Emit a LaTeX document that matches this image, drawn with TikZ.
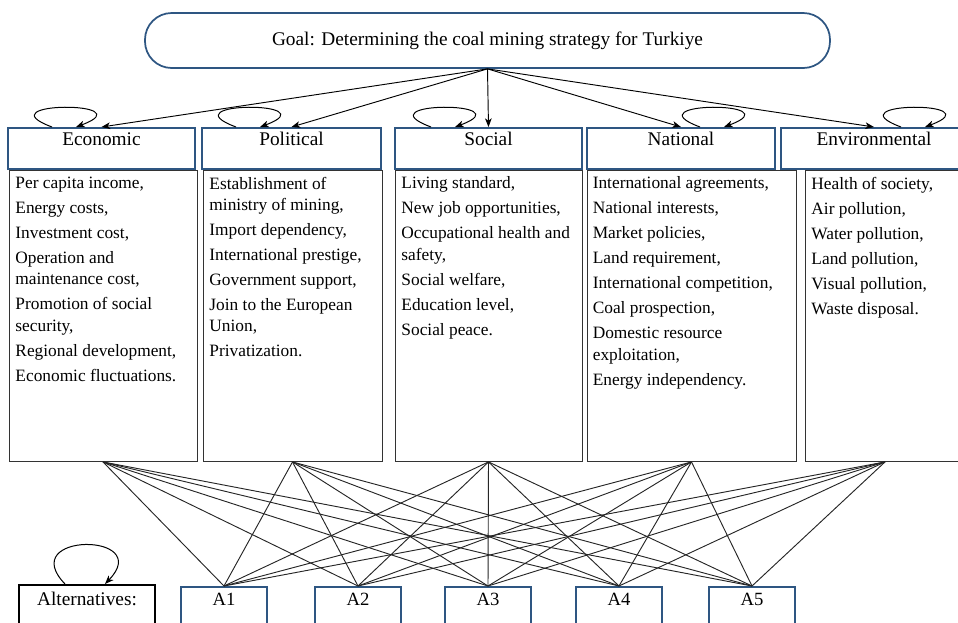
\documentclass[tikz,border=0pt]{standalone}
\usepackage{fontspec}
\setmainfont{Liberation Serif}
\usetikzlibrary{arrows.meta,positioning}
\definecolor{boxblue}{RGB}{46,86,130}

\begin{document}
\begin{tikzpicture}[x=0.75pt,y=-0.75pt,>={Stealth[length=6.5pt,width=5pt,inset=1.8pt]},
        goal/.style={draw=boxblue,line width=1.3pt,rounded corners=20pt,minimum width=513.75pt,minimum height=41.25pt,font=\fontsize{14.5}{16}\selectfont},
        crit/.style={draw=boxblue,line width=1.3pt,inner sep=0,anchor=north,text height=13.5pt,text depth=17.25pt,font=\fontsize{14.5}{16}\selectfont},
        sub/.style={draw=black!80,line width=0.7pt,anchor=north,minimum height=218.25pt,inner sep=0},
        subtext/.style={anchor=north west,align=left,inner sep=0,font=\fontsize{13}{16}\selectfont},
        alt/.style={draw=boxblue,line width=1.3pt,inner sep=0,anchor=north,minimum width=64.5pt,text height=13.7pt,text depth=25pt,font=\fontsize{14}{16}\selectfont},
        altbox/.style={draw=black,line width=1.5pt,inner sep=0,anchor=north,minimum width=102pt,text height=15pt,text depth=25pt,font=\fontsize{14.5}{16}\selectfont},
        selfloop/.style={draw=black,line width=0.75pt,->},
        link/.style={draw=black!85,line width=0.7pt},
        ]

\clip (0,0) rectangle (958,622);

\node [goal] (goal) at (487.5,40.5) {Goal: Determining the coal mining strategy for Turkiye};

\node [crit, minimum width=140.25pt] (eco) at (101.5,127) {Economic};
\node [crit, minimum width=134.25pt] (pol) at (291.5,127) {Political};
\node [crit, minimum width=140.25pt] (soc) at (488.5,127) {Social};
\node [crit, minimum width=141pt] (nat) at (681,127) {National};
\node [crit, minimum width=139.5pt] (env) at (874,127) {Environmental};

\node [sub, minimum width=141pt] (ecoL) at (103,170) {};
\node [sub, minimum width=134.25pt] (polL) at (292.5,170) {};
\node [sub, minimum width=140.25pt] (socL) at (488.5,170) {};
\node [sub, minimum width=156.75pt] (natL) at (691.5,170) {};
\node [sub, minimum width=120pt] (envL) at (885,170) {};

\node [subtext] (ecoT) at ([xshift=5pt,yshift=-5pt]ecoL.north west) {Per capita income,\\[2.75pt] Energy costs,\\[2.75pt] Investment cost,\\[2.75pt] Operation and\\ maintenance cost,\\[2.75pt] Promotion of social\\ security,\\[2.75pt] Regional development,\\[2.75pt] Economic fluctuations.};
\node [subtext] (polT) at ([xshift=5pt,yshift=-5pt]polL.north west) {Establishment of\\ ministry of mining,\\[2.75pt] Import dependency,\\[2.75pt] International prestige,\\[2.75pt] Government support,\\[2.75pt] Join to the European\\ Union,\\[2.75pt] Privatization.};
\node [subtext] (socT) at ([xshift=5pt,yshift=-5pt]socL.north west) {Living standard,\\[2.75pt] New job opportunities,\\[2.75pt] Occupational health and\\ safety,\\[2.75pt] Social welfare,\\[2.75pt] Education level,\\[2.75pt] Social peace.};
\node [subtext] (natT) at ([xshift=4.5pt,yshift=-5pt]natL.north west) {International agreements,\\[2.75pt] National interests,\\[2.75pt] Market policies,\\[2.75pt] Land requirement,\\[2.75pt] International competition,\\[2.75pt] Coal prospection,\\[2.75pt] Domestic resource\\ exploitation,\\[2.75pt] Energy independency.};
\node [subtext] (envT) at ([xshift=5pt,yshift=-5pt]envL.north west) {Health of society,\\[2.75pt] Air pollution,\\[2.75pt] Water pollution,\\[2.75pt] Land pollution,\\[2.75pt] Visual pollution,\\[2.75pt] Waste disposal.};

\node [altbox] (alts) at (87,584) {Alternatives:};
\node [alt] (A1) at (224,586) {A1};
\node [alt] (A2) at (358,586) {A2};
\node [alt] (A3) at (488,586) {A3};
\node [alt] (A4) at (619,586) {A4};
\node [alt] (A5) at (752,586) {A5};

    \path[draw=black,line width=0.7pt] (goal.south) edge[->] (eco.north);
    \path[draw=black,line width=0.7pt] (goal.south) edge[->] (pol.north);
    \path[draw=black,line width=0.7pt] (goal.south) edge[->] (soc.north);
    \path[draw=black,line width=0.7pt] (goal.south) edge[->] (nat.north);
    \path[draw=black,line width=0.7pt] (goal.south) edge[->] (env.north);

    \path[selfloop] ([xshift=-37.1pt]eco.north) .. controls +(-70,-26) and +(70,-26) .. ([xshift=-19.1pt]eco.north);
    \path[selfloop] ([xshift=-41.6pt]pol.north) .. controls +(-70,-26) and +(70,-26) .. ([xshift=-23.6pt]pol.north);
    \path[selfloop] ([xshift=-43.1pt]soc.north) .. controls +(-70,-26) and +(70,-26) .. ([xshift=-25.1pt]soc.north);
    \path[selfloop] ([xshift=14.25pt]nat.north) .. controls +(-70,-26) and +(70,-26) .. ([xshift=32.25pt]nat.north);
    \path[selfloop] ([xshift=20.25pt]env.north) .. controls +(-70,-26) and +(70,-26) .. ([xshift=38.25pt]env.north);
    \path[selfloop] ([xshift=-16.5pt]alts.north) .. controls +(-50,-52) and +(50,-52) .. ([xshift=13.5pt]alts.north);

    \path[link] (ecoL.south) edge (A1.north);
    \path[link] (ecoL.south) edge (A2.north);
    \path[link] (ecoL.south) edge (A3.north);
    \path[link] (ecoL.south) edge (A4.north);
    \path[link] (ecoL.south) edge (A5.north);

    \path[link] (polL.south) edge (A1.north);
    \path[link] (polL.south) edge (A2.north);
    \path[link] (polL.south) edge (A3.north);
    \path[link] (polL.south) edge (A4.north);
    \path[link] (polL.south) edge (A5.north);

    \path[link] (socL.south) edge (A1.north);
    \path[link] (socL.south) edge (A2.north);
    \path[link] (socL.south) edge (A3.north);
    \path[link] (socL.south) edge (A4.north);
    \path[link] (socL.south) edge (A5.north);

    \path[link] (natL.south) edge (A1.north);
    \path[link] (natL.south) edge (A2.north);
    \path[link] (natL.south) edge (A3.north);
    \path[link] (natL.south) edge (A4.north);
    \path[link] (natL.south) edge (A5.north);

    \path[link] (envL.south) edge (A1.north);
    \path[link] (envL.south) edge (A2.north);
    \path[link] (envL.south) edge (A3.north);
    \path[link] (envL.south) edge (A4.north);
    \path[link] (envL.south) edge (A5.north);

\end{tikzpicture}
\end{document}
